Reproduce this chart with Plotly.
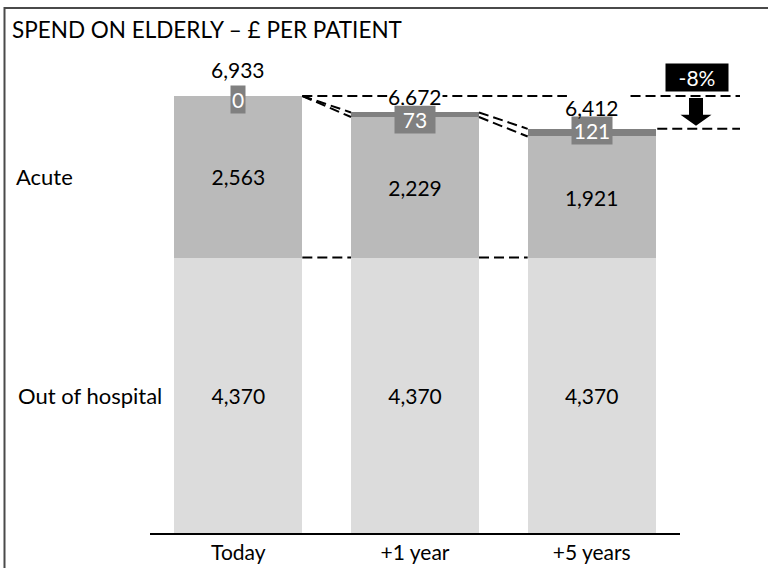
import plotly.graph_objects as go

categories = ["Today", "+1 year", "+5 years"]
out_of_hospital = [4370, 4370, 4370]
acute = [2563, 2229, 1921]
extra = [0, 73, 121]
totals = [6933, 6672, 6412]
change_label = "-8%"
title_text = "SPEND ON ELDERLY – £ PER PATIENT"

FONT = "Lato, 'Open Sans', sans-serif"
W, H = 768, 568
ML, MR, MT, MB = 150, 88, 60, 35
PW = W - ML - MR
PH = H - MT - MB
YMAX = 7504
BW = 0.7245
xs = list(range(len(categories)))
NUM_SIZE = 21
LBL_SIZE = 22

def paper_x(px):
    return (px - ML) / PW

def paper_y(py):
    return (H - MB - py) / PH

def data_to_paper_x(x):
    return (x + 0.5) / len(categories)

fig = go.Figure()
fig.add_trace(go.Bar(x=xs, y=out_of_hospital, width=BW, marker_color="#dcdcdc",
                     marker_line_width=0, text=[f"{v:,}" for v in out_of_hospital],
                     textposition="inside", insidetextanchor="middle",
                     textfont=dict(color="black", size=NUM_SIZE, family=FONT), name="Out of hospital"))
fig.add_trace(go.Bar(x=xs, y=acute, width=BW, marker_color="#bababa",
                     marker_line_width=0, text=[f"{v:,}" for v in acute],
                     textposition="inside", insidetextanchor="middle",
                     textfont=dict(color="black", size=NUM_SIZE, family=FONT), name="Acute"))
fig.add_trace(go.Bar(x=xs, y=extra, width=BW, marker_color="#808080",
                     marker_line_width=0, name="Other"))

shapes = []
annotations = []
dash_line = dict(color="black", width=2, dash="10px,5px")

# horizontal dashed line at today's total level
shapes.append(dict(type="line", xref="x", yref="y", x0=0 + BW / 2, x1=1.86,
                   y0=totals[0], y1=totals[0], line=dash_line))
shapes.append(dict(type="line", xref="paper", yref="y", x0=data_to_paper_x(2.22), x1=paper_x(740),
                   y0=totals[0], y1=totals[0], line=dash_line))
# dashed line at +5 years total level
shapes.append(dict(type="line", xref="paper", yref="y", x0=data_to_paper_x(2 + BW / 2) + 0.003,
                   x1=paper_x(740), y0=totals[2], y1=totals[2], line=dash_line))

# connectors between bars
for i in range(len(categories) - 1):
    xa = xs[i] + BW / 2
    xb = xs[i + 1] - BW / 2
    top_a = totals[i]
    bot_a = out_of_hospital[i] + acute[i]
    top_b = totals[i + 1]
    bot_b = out_of_hospital[i + 1] + acute[i + 1]
    shapes.append(dict(type="line", xref="x", yref="y", x0=xa, x1=xb, y0=top_a, y1=top_b, line=dash_line))
    shapes.append(dict(type="line", xref="x", yref="y", x0=xa, x1=xb, y0=bot_a, y1=bot_b, line=dash_line))
    shapes.append(dict(type="line", xref="x", yref="y", x0=xa, x1=xb,
                       y0=out_of_hospital[i], y1=out_of_hospital[i + 1], line=dash_line))

# down arrow
cx = paper_x(696)
sw = 7 / PW
hw = 15.5 / PW
unit = YMAX / PH
y_top = totals[0] - 2 * unit
y_bot = totals[2] + 3 * unit
y_neck = y_bot + 11 * unit
path = (f"M {cx - sw},{y_top} L {cx + sw},{y_top} L {cx + sw},{y_neck} L {cx + hw},{y_neck} "
        f"L {cx},{y_bot} L {cx - hw},{y_neck} L {cx - sw},{y_neck} Z")
shapes.append(dict(type="path", xref="paper", yref="y", path=path, fillcolor="black",
                   line=dict(width=0)))

# frame border (top and left)
shapes.append(dict(type="line", xref="paper", yref="paper", x0=paper_x(4), x1=paper_x(770),
                   y0=paper_y(8), y1=paper_y(8), line=dict(color="#4a4a4a", width=2)))
shapes.append(dict(type="line", xref="paper", yref="paper", x0=paper_x(4.5), x1=paper_x(4.5),
                   y0=paper_y(7), y1=paper_y(H + 20), line=dict(color="#4a4a4a", width=2)))

# labels of small segment
box_shift = [-4, -7, -2]
box_width = [None, 38, 38]
for i, v in enumerate(extra):
    annotations.append(dict(x=xs[i], y=totals[i], xref="x", yref="y", text=str(v), showarrow=False,
                            bgcolor="#808080", font=dict(color="white", size=NUM_SIZE, family=FONT),
                            borderpad=1, width=box_width[i], yshift=box_shift[i]))

# totals
annotations.append(dict(x=xs[0], y=totals[0], text=f"{totals[0]:,}", showarrow=False,
                        font=dict(color="black", size=NUM_SIZE, family=FONT), yshift=26))
annotations.append(dict(x=xs[1], y=totals[0], text=f"{totals[1]:,}", showarrow=False,
                        bgcolor="white", font=dict(color="black", size=NUM_SIZE, family=FONT),
                        borderpad=0, height=18))
annotations.append(dict(x=xs[2], y=totals[2], text=f"{totals[2]:,}", showarrow=False,
                        font=dict(color="black", size=NUM_SIZE, family=FONT), yshift=21))

# change box
annotations.append(dict(x=paper_x(697), y=totals[0], xref="paper", yref="y", text=change_label,
                        showarrow=False, bgcolor="black", xanchor="center",
                        font=dict(color="white", size=NUM_SIZE, family=FONT),
                        width=58, height=23, borderpad=2, yshift=18))

# series labels on the left
annotations.append(dict(x=paper_x(14), y=out_of_hospital[0] + acute[0] / 2, xref="paper", yref="y",
                        text="Acute", showarrow=False, xanchor="left",
                        font=dict(color="black", size=LBL_SIZE, family=FONT)))
annotations.append(dict(x=paper_x(16), y=out_of_hospital[0] / 2, xref="paper", yref="y",
                        text="Out of hospital", showarrow=False, xanchor="left",
                        font=dict(color="black", size=LBL_SIZE, family=FONT)))

# title
annotations.append(dict(x=paper_x(10), y=paper_y(30), xref="paper", yref="paper", text=title_text,
                        showarrow=False, xanchor="left", yanchor="middle",
                        font=dict(color="black", size=22.5, family=FONT)))

fig.update_layout(
    width=W, height=H, barmode="stack", showlegend=False,
    margin=dict(l=ML, r=MR, t=MT, b=MB, autoexpand=False),
    plot_bgcolor="white", paper_bgcolor="white",
    shapes=shapes, annotations=annotations,
    font=dict(family=FONT, color="black", size=LBL_SIZE),
    xaxis=dict(range=[-0.5, 2.5], tickvals=xs, ticktext=categories, showline=True,
               linecolor="black", linewidth=2, showgrid=False, zeroline=False, ticks="",
               automargin=False,
               tickfont=dict(size=LBL_SIZE - 1, family=FONT, color="black"), fixedrange=True),
    yaxis=dict(range=[0, YMAX], visible=False, showgrid=False, fixedrange=True, automargin=False),
)

fig.write_html("out.html", config={"displayModeBar": False, "responsive": False},
               post_script=("document.documentElement.style.margin='0';"
                            "document.documentElement.style.overflow='hidden';"
                            "document.body.style.margin='0';document.body.style.padding='0';"
                            "document.body.style.overflow='hidden';"))
